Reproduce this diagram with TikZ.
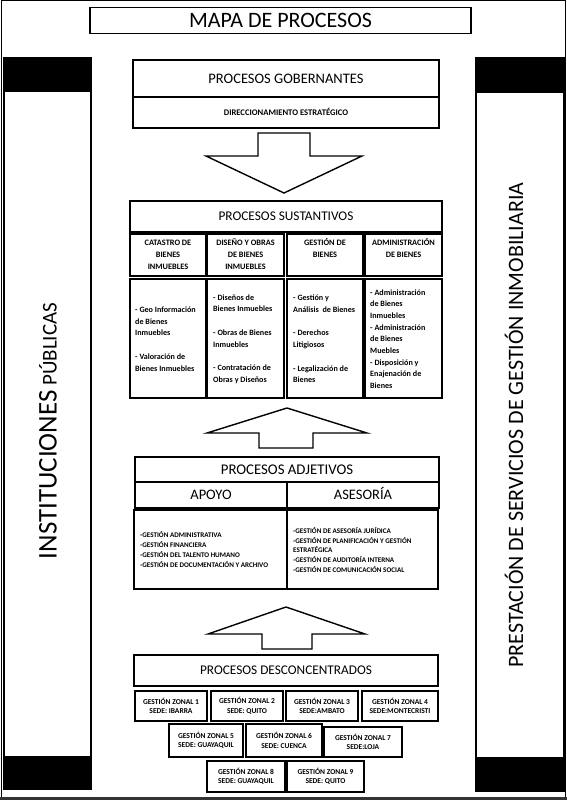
\documentclass[tikz,border=0pt]{standalone}
\usepackage{fontspec}
\setmainfont{Carlito}
\begin{document}
\begin{tikzpicture}[x=1pt,y=-1pt,
  box/.style={draw, line width=1.4pt, inner sep=0pt, outer sep=0pt, align=center},
  zone/.style={box, line width=1.8pt, font=\fontsize{7.5}{9.5}\selectfont\bfseries},
  hdr/.style={font=\fontsize{13.3}{13.3}\selectfont, text height=8.6, text depth=0pt},
  sub/.style={font=\fontsize{14.5}{14.5}\selectfont, text height=9.3, text depth=0pt},
  colhead/.style={inner sep=0pt, anchor=north, align=center, font=\fontsize{8.3}{12}\selectfont\bfseries},
  colbody/.style={inner sep=0pt, anchor=west, align=left, font=\fontsize{8.1}{11.7}\selectfont\bfseries},
  adjbody/.style={inner sep=0pt, anchor=west, align=left, font=\fontsize{7.1}{9.8}\selectfont\bfseries},
  blockarrow/.style={draw, line width=1.4pt, line join=miter, fill=white},
  sidebar/.style={draw, line width=1.2pt}
  ]
\useasboundingbox (0,0) rectangle (567,800);
% outer frame
\draw[line width=1pt] (1.5,0.5) rectangle (565.8,798);
\draw[line width=3pt, black!80] (0,798.5) -- (567,798.5);
% side bars
\draw[sidebar] (4,58) rectangle (91,789);
\fill (4,58) rectangle (91,92);
\fill (4,756) rectangle (91,789);
\draw[sidebar] (476,58) rectangle (564,791);
\fill (476,58) rectangle (564,93);
\fill (476,757) rectangle (564,791);
\node[rotate=90, anchor=base, inner sep=0pt] (inst) at (56.5,431)
  {\fontsize{27}{27}\selectfont INSTITUCIONES{\fontsize{21}{21}\selectfont\ PÚBLICAS}};
\node[rotate=90, anchor=base, inner sep=0pt] (prest) at (523,425)
  {\fontsize{22}{22}\selectfont PRESTACIÓN DE SERVICIOS DE GESTIÓN INMOBILIARIA};
% title
\node[box, minimum width=381, minimum height=26, font=\fontsize{22}{22}\selectfont, text height=14.2, text depth=0pt] (title) at (280.5,20.3) {MAPA DE PROCESOS};
% gobernantes
\node[box, sub, minimum width=306, minimum height=37] (gob) at (286,78.5) {PROCESOS GOBERNANTES};
\node[box, minimum width=306, minimum height=31, font=\fontsize{8.6}{8.6}\selectfont\bfseries, text height=5.5, text depth=0pt] (dir) at (286,112.5) {DIRECCIONAMIENTO ESTRATÉGICO};
% arrow down
\draw[blockarrow] (258,133) -- (310,133) -- (310,156) -- (362,156) -- (284,193) -- (206,156) -- (258,156) -- cycle;
% sustantivos
\node[box, hdr, minimum width=312, minimum height=31] (sus) at (286,216.5) {PROCESOS SUSTANTIVOS};
\node[box, minimum width=76, minimum height=42] (h1) at (168,255) {};
\node[box, minimum width=77, minimum height=42] (h2) at (245.5,255) {};
\node[box, minimum width=76, minimum height=42] (h3) at (325,255) {};
\node[box, minimum width=77, minimum height=42] (h4) at (403.5,255) {};
\node[colhead] (h1t) at (168,238.5) {\rule{0pt}{7pt}CATASTRO DE\\BIENES\\INMUEBLES};
\node[colhead] (h2t) at (245.5,238.5) {\rule{0pt}{7pt}DISEÑO Y OBRAS\\DE BIENES\\INMUEBLES};
\node[colhead] (h3t) at (325,238.5) {\rule{0pt}{7pt}GESTIÓN DE\\BIENES};
\node[colhead] (h4t) at (403.5,238.5) {\rule{0pt}{7pt}ADMINISTRACIÓN\\DE BIENES};
\node[box, minimum width=76, minimum height=119] (b1) at (168,338.5) {};
\node[box, minimum width=77, minimum height=119] (b2) at (245.5,338.5) {};
\node[box, minimum width=76, minimum height=119] (b3) at (325,338.5) {};
\node[box, minimum width=77, minimum height=119] (b4) at (403.5,338.5) {};
\node[colbody] (b1t) at (135,339) {- Geo Información\\de Bienes\\Inmuebles\\[11.7pt]- Valoración de\\Bienes Inmuebles};
\node[colbody] (b2t) at (213,339) {- Diseños de\\Bienes Inmuebles\\[11.7pt]- Obras de Bienes\\Inmuebles\\[11.7pt]- Contratación de\\Obras y Diseños};
\node[colbody] (b3t) at (293,339) {- Gestión y\\Análisis~ de Bienes\\[11.7pt]- Derechos\\Litigiosos\\[11.7pt]- Legalización de\\Bienes};
\node[colbody] (b4t) at (370,339) {- Administración\\de Bienes\\Inmuebles\\- Administración\\de Bienes\\Muebles\\- Disposición y\\Enajenación de\\Bienes};
% arrow up 1
\draw[blockarrow] (259,448) -- (259,433) -- (207,433) -- (287,408) -- (367,433) -- (313,433) -- (313,448) -- cycle;
% adjetivos
\node[box, font=\fontsize{14.8}{14.8}\selectfont, text height=9.5, text depth=0pt, minimum width=304, minimum height=25] (adj) at (287,469.5) {PROCESOS ADJETIVOS};
\node[box, sub, minimum width=152, minimum height=26] (apoyo) at (211,495) {APOYO};
\node[box, sub, minimum width=152, minimum height=26] (ases) at (363,495) {ASESORÍA};
\node[box, minimum width=153, minimum height=79] (apoyob) at (210.5,549.5) {};
\node[box, minimum width=151, minimum height=79] (asesb) at (362.5,549.5) {};
\node[adjbody] (apoyot) at (140,549.5) {-GESTIÓN ADMINISTRATIVA\\-GESTIÓN FINANCIERA\\-GESTIÓN DEL TALENTO HUMANO\\-GESTIÓN DE DOCUMENTACIÓN Y ARCHIVO};
\node[adjbody] (asest) at (293,550) {-GESTIÓN DE ASESORÍA JURÍDICA\\-GESTIÓN DE PLANIFICACIÓN Y GESTIÓN\\ESTRATÉGICA\\-GESTIÓN DE AUDITORÍA INTERNA\\-GESTIÓN DE COMUNICACIÓN SOCIAL};
% arrow up 2
\draw[blockarrow] (262,649) -- (262,634) -- (208,634) -- (286,607) -- (365,634) -- (312,634) -- (312,649) -- cycle;
% desconcentrados
\node[box, hdr, minimum width=304, minimum height=31] (desc) at (286,670.5) {PROCESOS DESCONCENTRADOS};
\node[zone, minimum width=72, minimum height=30] (z1) at (171,706) {GESTIÓN ZONAL 1\\SEDE: IBARRA};
\node[zone, minimum width=72, minimum height=30] (z2) at (247,706) {GESTIÓN ZONAL 2\\SEDE: QUITO};
\node[zone, minimum width=72, minimum height=30] (z3) at (322,706) {GESTIÓN ZONAL 3\\SEDE:AMBATO};
\node[zone, minimum width=76, minimum height=30] (z4) at (400,706) {GESTIÓN ZONAL 4\\SEDE:MONTECRISTI};
\node[zone, minimum width=74, minimum height=33] (z5) at (206,740.5) {GESTIÓN ZONAL 5\\SEDE: GUAYAQUIL};
\node[zone, minimum width=76, minimum height=33] (z6) at (284,740.5) {GESTIÓN ZONAL 6\\SEDE: CUENCA};
\node[zone, minimum width=78, minimum height=30] (z7) at (363,742) {GESTIÓN ZONAL 7\\SEDE:LOJA};
\node[zone, minimum width=78, minimum height=31] (z8) at (246,776.5) {GESTIÓN ZONAL 8\\SEDE: GUAYAQUIL};
\node[zone, minimum width=77, minimum height=31] (z9) at (325.5,776.5) {GESTIÓN ZONAL 9\\SEDE: QUITO};
\end{tikzpicture}
\end{document}
